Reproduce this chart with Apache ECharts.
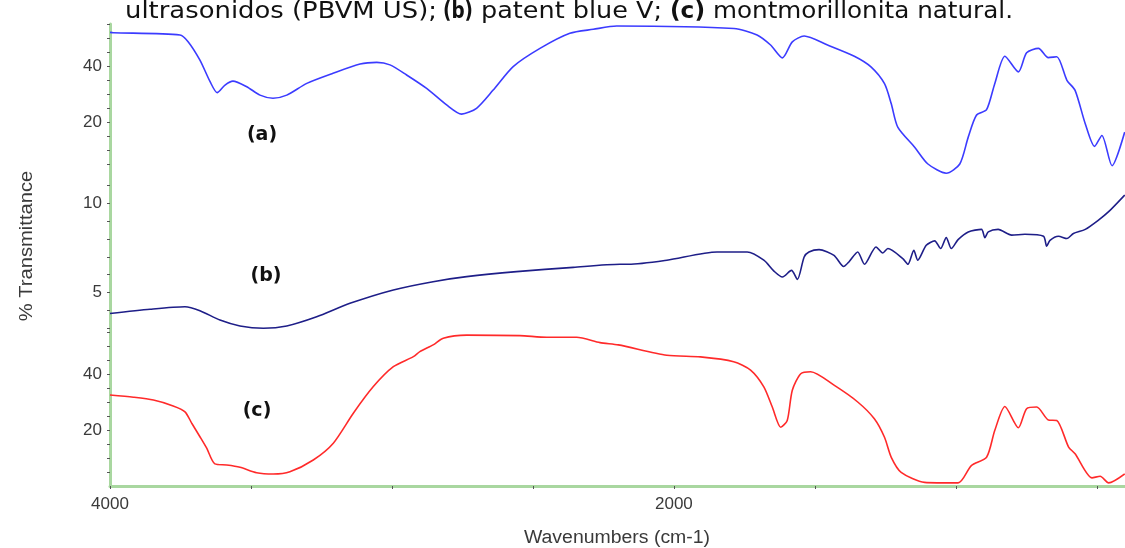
<!DOCTYPE html>
<html><head><meta charset="utf-8">
<script src="https://cdn.jsdelivr.net/npm/echarts@6/dist/echarts.min.js"></script>
<style>html,body{margin:0;padding:0;background:#fff}#c{width:1125px;height:548px}</style>
</head><body><div id="c"></div>
<script>
// (a) PBVM US — top panel
const wnA = [4000,3988,3752,3723,3681,3645,3620,3592,3564,3515,3468,3422,3373,3302,3209,3113,3054,3007,2948,2877,2806,2753,2700,2641,2570,2475,2369,2286,2203,1787,1705,1657,1615,1580,1538,1455,1360,1301,1253,1229,1206,1146,1099,1034,986,956,927,891,862,826,778,749,707,672,642,606,577,541,508,482,446,401];
const tA  = [52.0,51.9,51.1,48.7,42.1,34.4,30.5,33.2,34.6,32.6,29.6,28.5,29.6,33.8,37.4,40.7,41.3,40.4,36.8,32.0,26.1,22.8,24.9,31.4,39.8,46.3,51.7,53.1,54.3,53.4,51.1,47.5,42.9,48.6,50.7,47.5,43.5,39.7,33.7,26.5,18.2,11.0,5.0,1.7,5.0,14.6,22.4,24.4,33.7,43.5,37.9,44.7,46.3,43.0,43.3,34.9,31.3,19.4,11.3,15.2,4.4,16.4];
// (b) patent blue V — middle panel
const wnB = [4000,3858,3734,3681,3610,3539,3456,3373,3267,3149,2995,2854,2735,2558,2357,2191,2161,2025,1847,1740,1681,1645,1615,1583,1562,1538,1521,1485,1432,1398,1378,1348,1324,1283,1259,1241,1188,1170,1149,1135,1105,1075,1054,1034,1016,992,956,909,897,885,850,802,755,689,678,666,636,606,583,541,494,458,401];
const tB  = [3.83,4.07,4.21,3.99,3.47,3.14,3.01,3.14,3.65,4.40,5.15,5.61,5.89,6.17,6.41,6.58,6.58,6.81,7.27,7.27,6.81,6.20,5.87,6.24,5.74,6.99,7.27,7.40,7.08,6.46,6.74,7.27,6.58,7.55,7.21,7.46,6.90,6.58,7.36,6.81,7.64,7.89,7.46,8.07,7.46,7.96,8.39,8.53,8.07,8.39,8.53,8.21,8.26,8.15,7.59,7.92,8.15,8.02,8.30,8.53,9.05,9.52,10.45];
// (c) montmorillonita natural — bottom panel
const wnC = [4000,3917,3846,3776,3734,3710,3681,3657,3628,3586,3539,3480,3421,3362,3279,3208,3137,3066,2995,2924,2901,2854,2818,2735,2546,2451,2345,2262,2197,2025,1906,1788,1728,1681,1651,1621,1598,1580,1550,1515,1432,1348,1289,1253,1229,1194,1111,992,945,891,862,826,778,749,713,672,642,600,577,517,488,458,401];
const tC  = [32.5,31.7,30.7,28.6,26.5,22.4,17.6,13.5,7.9,7.5,6.7,4.75,4.3,5.1,9.3,15.3,26.0,35.5,42.6,46.2,48.0,50.4,52.8,53.9,53.7,53.1,53.1,51.2,50.4,46.7,46.1,44.4,41.4,35.4,28.2,21.0,23.4,34.2,40.1,40.8,36.0,30.0,24.0,17.4,10.25,4.9,1.3,1.1,7.3,10.25,19.8,28.4,20.8,27.6,28.2,23.6,23.4,13.9,11.5,2.9,3.5,1.1,4.3];

const xTicks = [500,1000,1500,2000,2500,3000,3500,4000];
const xLabels = [2000,4000];
const yTicksOuter = [5,10,15,20,25,30,35,40,45,50,55];
const yLabelsOuter = [20,40];
const yTicksMid = [3,4,5,6,7,8,9,10,11];
const yLabelsMid = [5,10];

const pairs = (xs, ys) => xs.map((x, i) => [x, ys[i]]);
const green = '#a9d7a0';
const sans = '"Liberation Sans",Arial,sans-serif';
const lblFont = {color:'#3a3a3a', fontSize:17, fontFamily:sans};

function yAxis(idx, min, max, ticks, labels){
  return {type:'value', gridIndex:idx, min, max, splitLine:{show:false},
    axisLine:{show:true, lineStyle:{color:green, width:3}},
    axisTick:{show:true, customValues:ticks, length:3, lineStyle:{color:'#555', width:1}},
    axisLabel:Object.assign({customValues:labels, margin:8, formatter:v=>String(v)}, lblFont)};
}
function xAxis(idx, show){
  return {type:'value', gridIndex:idx, min:400, max:4000, inverse:true, show:show,
    splitLine:{show:false},
    axisLine:{show:true, onZero:false, lineStyle:{color:green, width:3}},
    axisTick:{show:true, customValues:xTicks, length:3, lineStyle:{color:'#555'}},
    axisLabel:Object.assign({customValues:xLabels, margin:10, formatter:v=>String(v)}, lblFont)};
}

const titleFont = '"DejaVu Sans",sans-serif';
const mctx = document.createElement('canvas').getContext('2d');
// title pieces fitted between left and right pixel extents
function tpiece(x0, x1, text, bold){
  const size = 23;
  mctx.font = (bold ? 'bold ' : '') + size + 'px ' + titleFont;
  const w = mctx.measureText(text).width || 1;
  return {type:'text', x:x0, y:12, scaleX:(x1 - x0) / w, style:{text:text, fontSize:size, fontWeight: bold ? 'bold' : 'normal',
    fontFamily:titleFont, fill:'#111', align:'left', verticalAlign:'middle'}};
}

const chart = echarts.init(document.getElementById('c'), null, {renderer:'canvas'});
chart.setOption({
  animation:false,
  backgroundColor:'#fff',
  grid:[
    {left:110, right:0, top:24, height:154},
    {left:110, right:0, top:178, height:154},
    {left:110, right:0, top:332, height:154}
  ],
  xAxis:[xAxis(0,false), xAxis(1,false), xAxis(2,true)],
  yAxis:[
    yAxis(0, 0, 55, yTicksOuter, yLabelsOuter),
    yAxis(1, 2.8, 11.4, yTicksMid, yLabelsMid),
    yAxis(2, 0, 55, yTicksOuter, yLabelsOuter)
  ],
  series:[
    {type:'line', xAxisIndex:0, yAxisIndex:0, data:pairs(wnA,tA), showSymbol:false, smooth:0.25, lineStyle:{color:'#3b3bff', width:1.6}, silent:true},
    {type:'line', xAxisIndex:1, yAxisIndex:1, data:pairs(wnB,tB), showSymbol:false, smooth:0.25, lineStyle:{color:'#1e1e88', width:1.6}, silent:true},
    {type:'line', xAxisIndex:2, yAxisIndex:2, data:pairs(wnC,tC), showSymbol:false, smooth:0.25, lineStyle:{color:'#ff2a2a', width:1.6}, silent:true}
  ],
  graphic:[
    tpiece(125, 437, 'ultrasonidos (PBVM US);', false),
    tpiece(443, 473, '(b)', true),
    tpiece(481, 662, 'patent blue V;', false),
    tpiece(670, 705, '(c)', true),
    tpiece(713, 1013, 'montmorillonita natural.', false),
    {type:'text', x:262, y:135, style:{text:'(a)', fontSize:19, fontWeight:'bold', fontFamily:titleFont, fill:'#111', align:'center', verticalAlign:'middle'}},
    {type:'text', x:266, y:276, style:{text:'(b)', fontSize:19, fontWeight:'bold', fontFamily:titleFont, fill:'#111', align:'center', verticalAlign:'middle'}},
    {type:'text', x:257, y:411, style:{text:'(c)', fontSize:19, fontWeight:'bold', fontFamily:titleFont, fill:'#111', align:'center', verticalAlign:'middle'}},
    {type:'text', x:27, y:246, rotation:Math.PI/2, scaleX:1.12, style:{text:'% Transmittance', fontSize:18, fontFamily:sans, fill:'#3a3a3a', align:'center', verticalAlign:'middle'}},
    {type:'text', x:617, y:538, scaleX:1.08, style:{text:'Wavenumbers (cm-1)', fontSize:18, fontFamily:sans, fill:'#3a3a3a', align:'center', verticalAlign:'middle'}}
  ]
});
</script>
</body></html>
